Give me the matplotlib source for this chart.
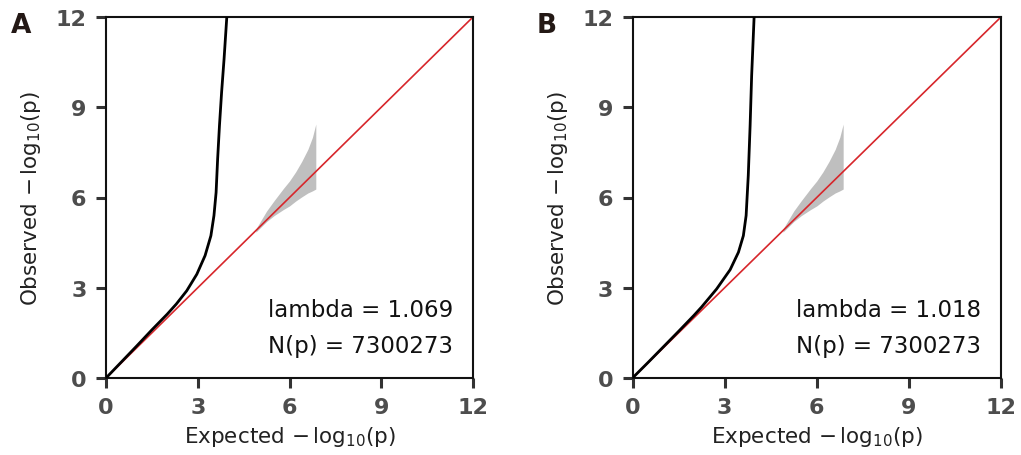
import numpy as np
import matplotlib.pyplot as plt

# QQ curves (expected, observed)
exp_a = [0, 0.5, 1.0, 1.5, 2.0, 2.3, 2.64, 2.97, 3.24, 3.43, 3.53, 3.60, 3.65, 3.71, 3.78, 3.86, 3.95]
obs_a = [0, 0.53, 1.06, 1.6, 2.12, 2.46, 2.9, 3.45, 4.07, 4.73, 5.4, 6.17, 7.28, 8.39, 9.5, 10.6, 12.0]

exp_b = [0, 0.5, 1.0, 1.5, 2.0, 2.25, 2.74, 3.18, 3.45, 3.61, 3.70, 3.77, 3.83, 3.88, 3.96]
obs_b = [0, 0.51, 1.03, 1.55, 2.08, 2.36, 2.96, 3.6, 4.18, 4.73, 5.4, 6.73, 8.39, 10.05, 12.0]

# confidence band
band_x = [4.9, 5.25, 5.5, 5.8, 6.0, 6.2, 6.4, 6.6, 6.75, 6.86]
band_lo = [4.85, 5.2, 5.4, 5.6, 5.72, 5.88, 6.02, 6.15, 6.22, 6.28]
band_hi = [4.95, 5.55, 5.9, 6.3, 6.55, 6.85, 7.2, 7.6, 8.0, 8.44]

lambdas = ['1.069', '1.018']
n_p = '7300273'
panels = ['A', 'B']
ticks = [0, 3, 6, 9, 12]

fig = plt.figure(figsize=(10.21, 4.56), dpi=100)
ax_a = fig.add_axes([106 / 1021, 1 - 379 / 456, 367 / 1021, 361 / 456])
ax_b = fig.add_axes([632.5 / 1021, 1 - 379 / 456, 368.5 / 1021, 361 / 456])

tick_col = '#4d4d4d'
for ax, ex, ob, lam in zip([ax_a, ax_b], [exp_a, exp_b], [obs_a, obs_b], lambdas):
    ax.fill_between(band_x, band_lo, band_hi, color='#bfbfbf', lw=0, zorder=1)
    ax.plot([0, 12], [0, 12], color='#d7262b', lw=1.2, zorder=2)
    ax.plot(ex, ob, color='black', lw=2.0, zorder=3, solid_joinstyle='round')
    ax.set_xlim(0, 12)
    ax.set_ylim(0, 12)
    ax.set_xticks(ticks)
    ax.set_yticks(ticks)
    ax.tick_params(length=7, width=2.2, color='#333333', labelsize=16, labelcolor=tick_col, pad=7)
    for t in ax.get_xticklabels() + ax.get_yticklabels():
        t.set_fontweight('bold')
    for s in ax.spines.values():
        s.set_linewidth(1.5)
        s.set_color('#111111')
    ax.set_xlabel(r'Expected $-\,\mathrm{log_{10}}$(p)', fontsize=15.5, color='#222222', labelpad=5)
    ax.set_ylabel(r'Observed $-\,\mathrm{log_{10}}$(p)', fontsize=15.5, color='#222222', labelpad=9)
    ax.text(0.945, 0.172, 'lambda = ' + lam, transform=ax.transAxes, ha='right', va='baseline',
            fontsize=16.5, color='#111111')
    ax.text(0.945, 0.072, 'N(p) = ' + n_p, transform=ax.transAxes, ha='right', va='baseline',
            fontsize=16.5, color='#111111')

fig.text(11 / 1021, 1 - 33 / 456, 'A', fontsize=19, fontweight='bold', color='#231815')
fig.text(537 / 1021, 1 - 33 / 456, 'B', fontsize=19, fontweight='bold', color='#231815')

fig.savefig('out.png', dpi=100)
